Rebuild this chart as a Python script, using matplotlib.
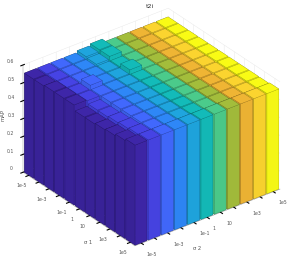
import numpy as np
import matplotlib
matplotlib.use('Agg')
import matplotlib.pyplot as plt
from matplotlib.colors import to_rgb

sigma1_labels = ['1e-5','','1e-3','','1e-1','1','10','','1e3','','1e5']
sigma2_labels = ['1e-5','','1e-3','','1e-1','1','10','','1e3','','1e5']
zticks = [0,0.1,0.2,0.3,0.4,0.5,0.6]
zlabels = ['0','0.1','0.2','0.3','0.4','0.5','0.6']
row_colors = ['#3E26A8','#4643E4','#4168FD','#2E87F7','#1FA5DE','#13BBB9','#4BCB8B','#A3BD3B','#EFB534','#FBD42F','#F9FB15']
Z = np.array([
 [0.555,0.555,0.56,0.56,0.56,0.53,0.53,0.535,0.54,0.55,0.56],
 [0.555,0.555,0.555,0.555,0.555,0.54,0.54,0.545,0.55,0.555,0.56],
 [0.555,0.555,0.555,0.575,0.555,0.555,0.555,0.555,0.555,0.555,0.56],
 [0.555,0.555,0.555,0.555,0.555,0.555,0.555,0.555,0.555,0.555,0.56],
 [0.565,0.56,0.555,0.555,0.555,0.555,0.555,0.555,0.555,0.555,0.56],
 [0.575,0.575,0.555,0.575,0.555,0.555,0.555,0.555,0.555,0.555,0.56],
 [0.555,0.555,0.555,0.555,0.555,0.555,0.555,0.555,0.555,0.555,0.56],
 [0.555,0.555,0.555,0.555,0.555,0.555,0.555,0.555,0.555,0.555,0.56],
 [0.555,0.555,0.555,0.555,0.555,0.555,0.555,0.555,0.555,0.555,0.56],
 [0.555,0.555,0.555,0.555,0.555,0.555,0.555,0.555,0.555,0.555,0.56],
 [0.555,0.555,0.555,0.555,0.555,0.555,0.555,0.555,0.555,0.555,0.56],
])
bar_w = 0.9

def scale(c, f):
    return tuple(min(1, v*f) for v in to_rgb(c))

fig = plt.figure(figsize=(2.91,2.59), dpi=100)
axw, axh = 2.79/2.91, 2.79/2.59
ax = fig.add_axes([0.508-axw/2, 0.495-axh/2, axw, axh], projection='3d')
ax.computed_zorder = False
ax.set_proj_type('ortho')
ax.view_init(elev=30.5, azim=-37.6)
ax.set_box_aspect((1,1,0.68))
n = len(row_colors)
zo = 5
for c in range(n):
    for r in range(n-1,-1,-1):
        col = row_colors[r]
        faces = [scale(col,0.8), scale(col,1.0), scale(col,0.9), scale(col,0.9), scale(col,0.78), scale(col,0.98)]
        ax.bar3d(c-bar_w/2, r-bar_w/2, 0, bar_w, bar_w, Z[r,c], color=faces,
                 edgecolor=(0,0,0,0.25), linewidth=0.25, shade=False, zorder=zo)
        zo += 1
ax.set_xlim(-0.5,n-0.5); ax.set_ylim(-0.5,n-0.5); ax.set_zlim(0,0.6)
ax.set_xticks(range(n)); ax.set_xticklabels(sigma1_labels,fontsize=3.3,color='#555555')
ax.set_yticks(range(n)); ax.set_yticklabels(sigma2_labels,fontsize=3.3,color='#555555')
ax.set_zticks(zticks); ax.set_zticklabels(zlabels,fontsize=3.3,color='#555555',va='bottom')
ax.zaxis.set_ticks_position('lower')
for t in ax.get_yticklabels():
    t.set_ha('left')
fig.text(88/291,1-243/259,'σ 1',fontsize=3.8,color='#555555',ha='center',va='center')
fig.text(197/291,1-249/259,'σ 2',fontsize=3.8,color='#555555',ha='center',va='center')
fig.text(3/291,1-115/259,'mAP',fontsize=3.8,color='#555555',ha='center',va='center',rotation=90)
fig.text(150/291,1-6/259,'t2i',fontsize=4.5,color='#333333',ha='center',va='center')
ax.tick_params(pad=-3,length=1,width=0.3)
for a in (ax.xaxis,ax.yaxis,ax.zaxis):
    a.set_pane_color((1,1,1,0))
    a._axinfo['grid'].update(color='#e6e6e6',linewidth=0.3)
    a.line.set_linewidth(0.3); a.line.set_color('#888888')
fig.savefig('out.png',dpi=100)
